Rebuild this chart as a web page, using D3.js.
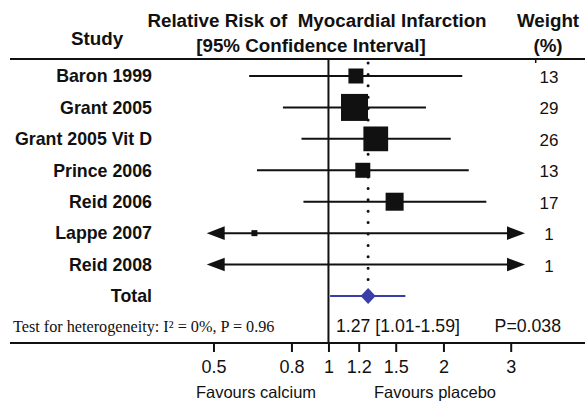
<!DOCTYPE html>
<html>
<head>
<meta charset="utf-8">
<script src="https://cdn.jsdelivr.net/npm/d3@7"></script>
<style>
  body { margin: 0; background: #fff; }
  text { font-family: "Liberation Sans", Arial, Helvetica, sans-serif; fill: #111; white-space: pre; }
</style>
</head>
<body>
<svg id="chart" width="585" height="402"></svg>
<script>
// study rows
const studies = ["Baron 1999", "Grant 2005", "Grant 2005 Vit D", "Prince 2006", "Reid 2006", "Lappe 2007", "Reid 2008"];
const estimates = [1.18, 1.17, 1.33, 1.23, 1.49, 0.64, null]; // Reid 2008 box not visible
const lowers = [0.62, 0.76, 0.85, 0.65, 0.86, 0.03, 0.05];
const uppers = [2.24, 1.80, 2.09, 2.33, 2.59, 14.0, 12.0];
const weights = [13, 29, 26, 13, 17, 1, 1];

// pooled result
const totalEst = 1.27, totalLow = 1.01, totalHigh = 1.59;
const tickVals = [0.5, 0.8, 1, 1.2, 1.5, 2, 3];

const svg = d3.select("#chart");
const black = "#111";
const blue = "#3a3fa6";

const x = d3.scaleLog().domain([0.48, 3.27]).range([206.7, 525]);
const rowNames = studies.concat(["Total"]);
const y = d3.scalePoint().domain(rowNames).range([76, 296]);
const boxSize = d3.scaleLinear().domain([1, 29]).range([6, 27]);

const axisY = 343;
const headerY = 59;

// header texts
const header = svg.append("g").attr("font-weight", "bold").attr("font-size", 18.8);
header.append("text").attr("x", 97).attr("y", 38).attr("dy", "0.35em").attr("text-anchor", "middle").text("Study");
header.append("text").attr("x", 317).attr("y", 20).attr("dy", "0.35em").attr("text-anchor", "middle").text("Relative Risk of  Myocardial Infarction");
header.append("text").attr("x", 311).attr("y", 45).attr("dy", "0.35em").attr("text-anchor", "middle").text("[95% Confidence Interval]");
header.append("text").attr("x", 548).attr("y", 20).attr("dy", "0.35em").attr("text-anchor", "middle").text("Weight");
header.append("text").attr("x", 548).attr("y", 45).attr("dy", "0.35em").attr("text-anchor", "middle").text("(%)");

// header rule + small tick
svg.append("line").attr("x1", 10).attr("x2", 585).attr("y1", headerY).attr("y2", headerY)
  .attr("stroke", black).attr("stroke-width", 2);
svg.append("line").attr("x1", 535.7).attr("x2", 535.7).attr("y1", headerY).attr("y2", headerY + 4)
  .attr("stroke", black).attr("stroke-width", 1.5);

// line of no effect
svg.append("line").attr("x1", x(1)).attr("x2", x(1)).attr("y1", headerY).attr("y2", axisY)
  .attr("stroke", black).attr("stroke-width", 2);

// dotted line at pooled estimate
svg.append("line").attr("x1", x(totalEst)).attr("x2", x(totalEst)).attr("y1", 63).attr("y2", 290)
  .attr("stroke", black).attr("stroke-width", 3).attr("stroke-linecap", "round")
  .attr("stroke-dasharray", "0 11.4");

// study labels
svg.append("g").selectAll("text").data(rowNames).join("text")
  .attr("x", 152).attr("y", d => y(d)).attr("dy", "0.35em")
  .attr("text-anchor", "end").attr("font-weight", "bold").attr("font-size", 17.8)
  .text(d => d);

// CI lines (clipped to the scale, arrows where off-chart)
const [xMin, xMax] = x.domain();
const rows = studies.map((s, i) => ({ s, est: estimates[i], lo: lowers[i], hi: uppers[i], w: weights[i] }));
const ciLayer = svg.append("g");
const arrowLen = 18, arrowHalf = 6.8;

rows.forEach(d => {
  const yy = y(d.s);
  const loClip = d.lo < xMin, hiClip = d.hi > xMax;
  const x1 = loClip ? x(xMin) + arrowLen - 1 : x(d.lo);
  const x2 = hiClip ? x(xMax) - arrowLen + 1 : x(d.hi);
  ciLayer.append("line").attr("x1", x1).attr("x2", x2).attr("y1", yy).attr("y2", yy)
    .attr("stroke", black).attr("stroke-width", 2);
  if (loClip) {
    const tip = x(xMin);
    ciLayer.append("path")
      .attr("d", `M${tip},${yy} L${tip + arrowLen},${yy - arrowHalf} L${tip + arrowLen},${yy + arrowHalf} Z`)
      .attr("fill", black);
  }
  if (hiClip) {
    const tip = x(xMax);
    ciLayer.append("path")
      .attr("d", `M${tip},${yy} L${tip - arrowLen},${yy - arrowHalf} L${tip - arrowLen},${yy + arrowHalf} Z`)
      .attr("fill", black);
  }
  if (d.est != null) {
    const sz = boxSize(d.w);
    ciLayer.append("rect")
      .attr("x", x(d.est) - sz / 2).attr("y", yy - sz / 2)
      .attr("width", sz).attr("height", sz).attr("fill", black);
  }
});

// weights
svg.append("g").selectAll("text").data(rows).join("text")
  .attr("x", 549).attr("y", d => y(d.s) + 1).attr("dy", "0.35em")
  .attr("text-anchor", "middle").attr("font-size", 17)
  .text(d => d.w);

// pooled estimate
const ty = y("Total");
svg.append("line").attr("x1", x(totalLow)).attr("x2", x(totalHigh)).attr("y1", ty).attr("y2", ty)
  .attr("stroke", blue).attr("stroke-width", 2);
svg.append("path")
  .attr("d", `M${x(totalEst) - 7.5},${ty} L${x(totalEst)},${ty - 8} L${x(totalEst) + 7.5},${ty} L${x(totalEst)},${ty + 8} Z`)
  .attr("fill", blue);

// summary row
svg.append("text").attr("x", 13).attr("y", 326).attr("dy", "0.35em")
  .style("font-family", "'Liberation Serif', 'Times New Roman', serif").attr("font-size", 16.2)
  .text("Test for heterogeneity: I\u00B2 = 0%, P = 0.96");
svg.append("text").attr("x", 336).attr("y", 326).attr("dy", "0.35em").attr("font-size", 17.7)
  .text(`${totalEst} [${totalLow}-${totalHigh}]`);
svg.append("text").attr("x", 561).attr("y", 326).attr("dy", "0.35em").attr("font-size", 17.7)
  .attr("text-anchor", "end").text("P=0.038");

// axis
svg.append("line").attr("x1", 10).attr("x2", 585).attr("y1", axisY).attr("y2", axisY)
  .attr("stroke", black).attr("stroke-width", 2);
const axis = svg.append("g").attr("transform", `translate(0,${axisY})`)
  .call(d3.axisBottom(x).tickValues(tickVals).tickFormat(d3.format("")).tickSize(9).tickPadding(0));
axis.select(".domain").remove();
axis.selectAll(".tick line").attr("stroke", black).attr("stroke-width", 2);
axis.selectAll(".tick text").attr("y", 24).attr("dy", "0.35em")
  .attr("font-size", 18).attr("fill", black)
  .style("font-family", "'Liberation Sans', Arial, sans-serif");

svg.append("text").attr("x", 256).attr("y", 392).attr("dy", "0.35em").attr("text-anchor", "middle")
  .attr("font-size", 16.5).text("Favours calcium");
svg.append("text").attr("x", 435).attr("y", 392).attr("dy", "0.35em").attr("text-anchor", "middle")
  .attr("font-size", 16.5).text("Favours placebo");
</script>
</body>
</html>
